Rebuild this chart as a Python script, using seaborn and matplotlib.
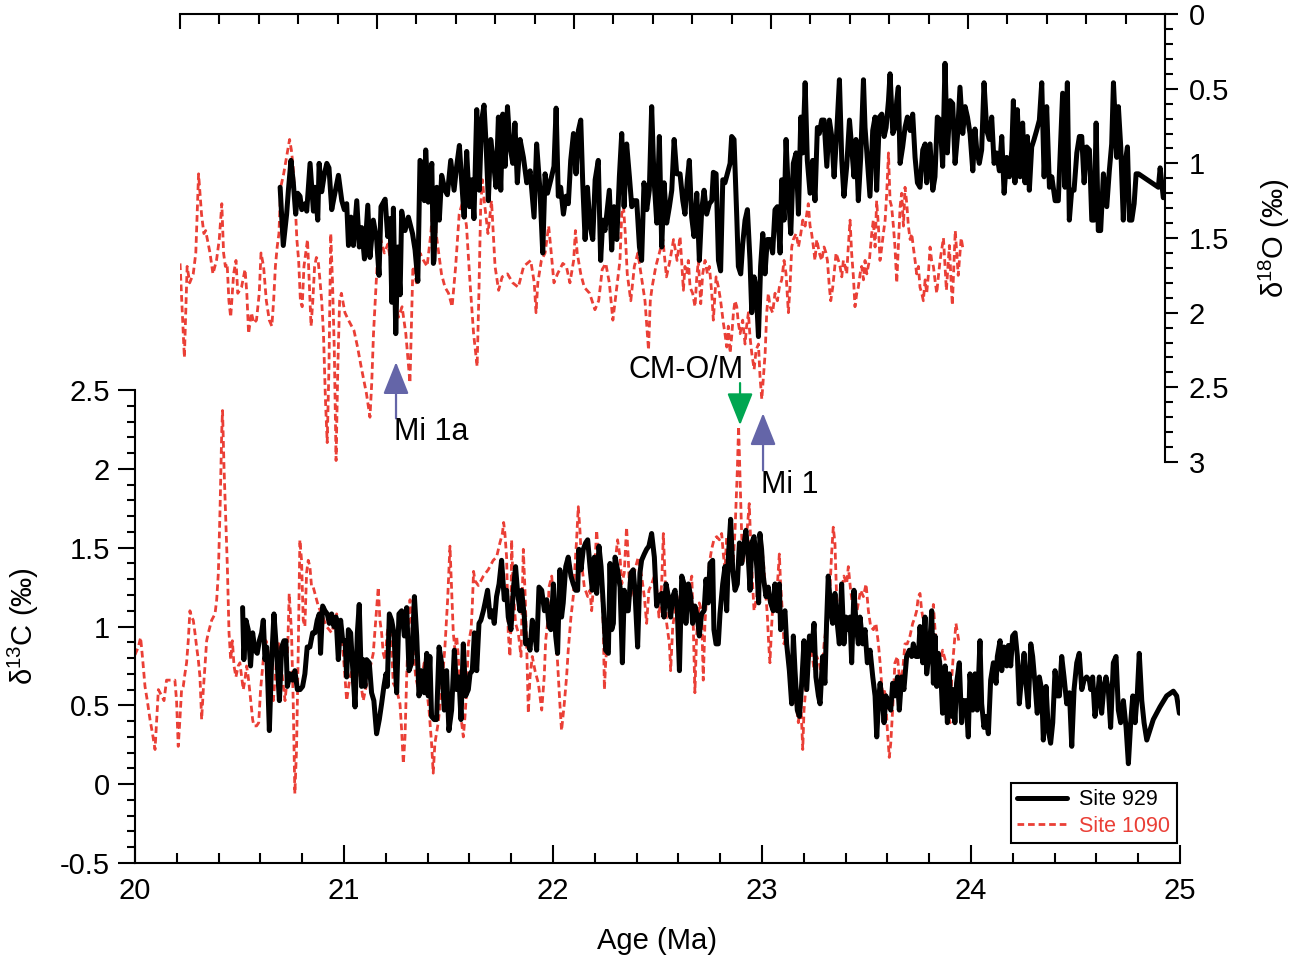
"""
plot.py - Site 929 / Site 1090 stable isotope records, 20-25 Ma.

Top panel: d18O (reversed axis), bottom panel: d13C.
"""

import matplotlib
matplotlib.use("Agg")
import matplotlib.pyplot as plt
from matplotlib.lines import Line2D
from matplotlib.ticker import MultipleLocator, FormatStrFormatter
import seaborn as sns

# ---------------------------------------------------------------------------
# Data
# ---------------------------------------------------------------------------
age_929_o = [
    20.508, 20.524, 20.541, 20.55, 20.563, 20.575, 20.587, 20.597, 20.609, 20.618,
    20.635, 20.643, 20.66, 20.677, 20.685, 20.699, 20.706, 20.719, 20.733, 20.745,
    20.756, 20.77, 20.783, 20.804, 20.821, 20.834, 20.846, 20.855, 20.868, 20.88,
    20.897, 20.91, 20.922, 20.936, 20.953, 20.964, 20.981, 20.998, 21.01, 21.02,
    21.041, 21.054, 21.066, 21.075, 21.083, 21.095, 21.105, 21.117, 21.125, 21.142,
    21.159, 21.18, 21.193, 21.207, 21.218, 21.23, 21.24, 21.247, 21.26, 21.278,
    21.286, 21.289, 21.303, 21.316, 21.328, 21.345, 21.357, 21.374, 21.391, 21.404,
    21.418, 21.43, 21.442, 21.455, 21.469, 21.48, 21.492, 21.506, 21.519, 21.531,
    21.543, 21.553, 21.565, 21.577, 21.59, 21.604, 21.616, 21.628, 21.638, 21.65,
    21.662, 21.675, 21.689, 21.7, 21.712, 21.726, 21.743, 21.76, 21.777, 21.797,
    21.81, 21.827, 21.841, 21.853, 21.865, 21.882, 21.898, 21.909, 21.92, 21.932,
    21.946, 21.959, 21.971, 21.983, 21.997, 22.01, 22.022, 22.034, 22.044, 22.056,
    22.068, 22.081, 22.095, 22.107, 22.123, 22.135, 22.146, 22.157, 22.166, 22.179,
    22.191, 22.203, 22.217, 22.23, 22.242, 22.254, 22.267, 22.281, 22.293, 22.305,
    22.318, 22.332, 22.343, 22.355, 22.369, 22.382, 22.394, 22.406, 22.42, 22.433,
    22.445, 22.457, 22.47, 22.484, 22.496, 22.508, 22.521, 22.538, 22.552, 22.563,
    22.575, 22.585, 22.597, 22.609, 22.623, 22.636, 22.648, 22.66, 22.673, 22.687,
    22.699, 22.707, 22.721, 22.733, 22.744, 22.755, 22.766, 22.778, 22.792, 22.8,
    22.812, 22.826, 22.834, 22.846, 22.856, 22.868, 22.88, 22.893, 22.902, 22.914,
    22.924, 22.936, 22.947, 22.958, 22.969, 22.981, 22.995, 23.008, 23.02, 23.032,
    23.046, 23.054, 23.066, 23.076, 23.088, 23.1, 23.113, 23.127, 23.139, 23.151,
    23.161, 23.173, 23.184, 23.198, 23.211, 23.223, 23.235, 23.245, 23.257, 23.269,
    23.283, 23.296, 23.308, 23.32, 23.333, 23.347, 23.359, 23.37, 23.384, 23.398,
    23.409, 23.421, 23.431, 23.443, 23.455, 23.469, 23.477, 23.489, 23.502, 23.516,
    23.528, 23.536, 23.55, 23.562, 23.574, 23.584, 23.596, 23.604, 23.618, 23.629,
    23.638, 23.646, 23.655, 23.668, 23.68, 23.692, 23.706, 23.719, 23.731, 23.743,
    23.756, 23.77, 23.782, 23.79, 23.807, 23.821, 23.832, 23.844, 23.858, 23.871,
    23.883, 23.895, 23.909, 23.922, 23.934, 23.946, 23.959, 23.973, 23.985, 23.997,
    24.01, 24.024, 24.035, 24.044, 24.057, 24.069, 24.081, 24.095, 24.108, 24.12,
    24.132, 24.145, 24.159, 24.171, 24.183, 24.196, 24.21, 24.222, 24.23, 24.238,
    24.25, 24.264, 24.277, 24.289, 24.301, 24.311, 24.323, 24.335, 24.348, 24.362,
    24.374, 24.386, 24.399, 24.413, 24.425, 24.442, 24.458, 24.467, 24.48, 24.492,
    24.504, 24.514, 24.526, 24.538, 24.552, 24.565, 24.577, 24.589, 24.602, 24.616,
    24.628, 24.64, 24.65, 24.661, 24.673, 24.687, 24.704, 24.717, 24.729, 24.738,
    24.755, 24.763, 24.775, 24.788, 24.797, 24.809, 24.819, 24.831, 24.843, 24.853,
    24.865, 24.966, 24.975, 24.991,
]
d18o_929 = [
    1.16, 1.55, 1.34, 1.18, 0.98, 1.13, 1.34, 1.2, 1.22, 1.31,
    1.27, 1.32, 1.0, 1.32, 1.16, 1.38, 1.0, 1.19, 1.07, 1.0,
    1.03, 1.31, 1.22, 1.08, 1.25, 1.31, 1.27, 1.55, 1.36, 1.55,
    1.25, 1.56, 1.43, 1.64, 1.28, 1.63, 1.38, 1.51, 1.75, 1.29,
    1.24, 1.49, 1.37, 1.93, 1.3, 2.14, 1.56, 1.88, 1.32, 1.45,
    1.36, 1.47, 1.58, 1.79, 0.98, 1.0, 1.25, 0.91, 1.26, 1.0,
    1.67, 1.65, 1.16, 1.38, 1.08, 1.18, 1.21, 0.98, 1.18, 1.02,
    0.88, 1.13, 1.36, 0.92, 1.29, 1.11, 1.37, 0.64, 1.18, 0.71,
    0.61, 0.86, 1.25, 0.84, 0.98, 1.16, 0.69, 1.18, 0.67, 1.02,
    0.62, 0.89, 1.0, 0.73, 1.13, 0.84, 0.96, 1.13, 1.05, 1.36,
    0.87, 1.18, 1.6, 1.07, 1.2, 1.11, 1.02, 0.63, 1.22, 1.16,
    1.34, 1.22, 1.27, 0.98, 0.8, 1.07, 0.78, 0.71, 1.13, 1.51,
    1.16, 1.42, 1.51, 1.11, 0.98, 1.65, 1.38, 1.45, 1.34, 1.18,
    1.58, 1.29, 1.51, 1.09, 0.8, 1.29, 0.87, 1.09, 1.29, 1.25,
    1.25, 1.56, 1.65, 1.13, 1.31, 1.18, 0.62, 1.11, 1.4, 0.82,
    1.56, 1.13, 1.4, 1.29, 1.18, 0.84, 1.07, 1.07, 1.25, 1.34,
    1.11, 0.98, 1.36, 1.49, 1.2, 1.65, 1.31, 1.18, 1.34, 1.27,
    1.25, 1.06, 1.07, 1.65, 1.72, 1.11, 1.13, 1.07, 1.0, 0.82,
    0.84, 1.36, 1.69, 1.74, 1.54, 1.38, 1.31, 1.65, 2.0, 1.76,
    1.83, 2.16, 1.69, 1.47, 1.74, 1.51, 1.51, 1.6, 1.31, 1.29,
    1.6, 1.11, 1.38, 0.84, 1.2, 1.47, 1.0, 0.93, 1.34, 0.69,
    0.93, 0.46, 0.98, 1.2, 0.98, 1.25, 0.76, 0.8, 0.71, 0.71,
    1.02, 0.71, 0.82, 1.09, 0.8, 0.44, 0.98, 1.22, 1.02, 0.71,
    0.89, 1.09, 0.84, 1.25, 0.96, 0.44, 0.76, 0.98, 1.22, 0.78,
    0.69, 1.18, 0.69, 0.67, 0.82, 0.76, 0.58, 0.4, 0.8, 0.76,
    0.58, 0.49, 1.0, 0.89, 0.76, 0.69, 0.78, 0.67, 0.96, 1.13,
    1.16, 0.91, 0.87, 1.13, 0.87, 1.18, 1.09, 0.69, 0.71, 1.02,
    0.33, 0.93, 0.58, 0.6, 1.0, 0.82, 0.49, 0.8, 0.62, 0.69,
    0.8, 1.05, 0.77, 0.91, 1.0, 0.91, 0.46, 0.78, 0.84, 0.69,
    1.0, 0.93, 1.05, 0.82, 1.2, 0.96, 1.09, 0.91, 0.58, 1.13,
    0.64, 1.09, 0.73, 1.13, 0.82, 1.18, 0.89, 0.84, 0.78, 0.71,
    0.46, 1.09, 0.62, 1.16, 1.09, 1.25, 1.25, 0.96, 0.53, 1.16,
    0.46, 1.38, 1.18, 1.18, 0.93, 0.82, 0.82, 1.13, 0.89, 0.91,
    1.38, 1.38, 0.73, 1.45, 1.45, 1.07, 1.29, 1.05, 0.87, 0.46,
    0.96, 0.62, 0.89, 1.38, 1.0, 0.89, 1.38, 1.38, 1.27, 1.07,
    1.07, 1.16, 1.03, 1.23,
]

age_1090_o = [
    20.0, 20.022, 20.036, 20.049, 20.067, 20.08, 20.094, 20.109, 20.121, 20.13,
    20.139, 20.152, 20.167, 20.185, 20.199, 20.212, 20.221, 20.23, 20.239, 20.248,
    20.257, 20.272, 20.284, 20.293, 20.312, 20.33, 20.339, 20.348, 20.362, 20.375,
    20.388, 20.402, 20.411, 20.424, 20.438, 20.453, 20.466, 20.475, 20.484, 20.493,
    20.502, 20.511, 20.526, 20.556, 20.565, 20.574, 20.584, 20.593, 20.602, 20.611,
    20.62, 20.629, 20.638, 20.647, 20.656, 20.665, 20.674, 20.683, 20.692, 20.701,
    20.71, 20.719, 20.728, 20.738, 20.747, 20.756, 20.765, 20.774, 20.783, 20.792,
    20.801, 20.81, 20.819, 20.837, 20.855, 20.883, 20.901, 20.919, 20.946, 20.964,
    20.973, 20.982, 20.991, 21.0, 21.019, 21.037, 21.055, 21.073, 21.091, 21.109,
    21.127, 21.146, 21.167, 21.182, 21.2, 21.218, 21.236, 21.254, 21.273, 21.29,
    21.3, 21.327, 21.345, 21.363, 21.381, 21.399, 21.417, 21.436, 21.454, 21.472,
    21.49, 21.508, 21.517, 21.526, 21.535, 21.544, 21.563, 21.581, 21.599, 21.617,
    21.635, 21.662, 21.689, 21.717, 21.744, 21.762, 21.78, 21.798, 21.807, 21.816,
    21.834, 21.853, 21.871, 21.88, 21.898, 21.916, 21.943, 21.961, 21.979, 21.998,
    22.007, 22.016, 22.034, 22.052, 22.079, 22.106, 22.125, 22.143, 22.161, 22.179,
    22.197, 22.215, 22.233, 22.242, 22.251, 22.26, 22.27, 22.288, 22.306, 22.324,
    22.342, 22.36, 22.378, 22.387, 22.396, 22.415, 22.433, 22.451, 22.469, 22.487,
    22.505, 22.523, 22.538, 22.546, 22.555, 22.563, 22.572, 22.58, 22.589, 22.602,
    22.614, 22.623, 22.631, 22.643, 22.653, 22.665, 22.677, 22.687, 22.699, 22.707,
    22.721, 22.733, 22.744, 22.758, 22.766, 22.775, 22.783, 22.792, 22.8, 22.809,
    22.817, 22.826, 22.834, 22.843, 22.856, 22.868, 22.876, 22.885, 22.893, 22.902,
    22.914, 22.924, 22.936, 22.944, 22.953, 22.961, 22.97, 22.978, 22.986, 22.995,
    23.008, 23.02, 23.032, 23.042, 23.054, 23.066, 23.076, 23.088, 23.096, 23.105,
    23.113, 23.127, 23.139, 23.151, 23.161, 23.173, 23.181, 23.189, 23.198, 23.206,
    23.215, 23.223, 23.232, 23.245, 23.257, 23.269, 23.279, 23.286, 23.296, 23.303,
    23.313, 23.32, 23.33, 23.342, 23.35, 23.359, 23.367, 23.376, 23.384, 23.392,
    23.401, 23.409, 23.418, 23.426, 23.435, 23.443, 23.452, 23.46, 23.469, 23.477,
    23.486, 23.499, 23.511, 23.519, 23.528, 23.536, 23.545, 23.553, 23.562, 23.57,
    23.579, 23.587, 23.596, 23.604, 23.612, 23.621, 23.629, 23.638, 23.646, 23.655,
    23.663, 23.672, 23.68, 23.689, 23.697, 23.706, 23.714, 23.722, 23.731, 23.739,
    23.748, 23.756, 23.765, 23.773, 23.782, 23.79, 23.799, 23.807, 23.815, 23.824,
    23.832, 23.841, 23.849, 23.858, 23.875, 23.89, 23.905, 23.92, 23.935, 23.95,
    23.965, 23.975,
]
d18o_1090 = [
    1.67, 2.3, 1.69, 1.8, 1.74, 1.6, 1.07, 1.34, 1.47, 1.45,
    1.51, 1.6, 1.74, 1.65, 1.51, 1.27, 1.6, 1.69, 1.67, 1.92,
    2.03, 1.74, 1.65, 1.87, 1.83, 1.71, 1.87, 2.14, 2.0, 2.07,
    2.05, 1.87, 1.6, 1.69, 1.92, 2.05, 2.09, 1.92, 1.69, 1.56,
    1.47, 1.16, 1.07, 0.84, 0.91, 1.02, 1.25, 1.51, 1.65, 1.92,
    1.96, 1.69, 1.6, 1.51, 1.8, 2.09, 1.92, 1.69, 1.63, 1.65,
    1.78, 1.92, 2.14, 2.58, 2.87, 2.36, 1.47, 1.8, 2.25, 2.99,
    2.36, 1.92, 1.87, 2.0, 2.05, 2.12, 2.23, 2.36, 2.54, 2.7,
    2.47, 2.14, 1.92, 1.69, 1.51, 1.6, 1.54, 1.69, 1.92, 2.03,
    1.96, 2.14, 2.47, 1.69, 1.8, 1.6, 1.65, 1.69, 1.47, 1.16,
    1.47, 1.74, 1.83, 1.87, 1.96, 1.69, 1.34, 1.25, 1.42, 1.8,
    2.14, 2.36, 1.87, 1.29, 1.11, 1.25, 1.47, 1.25, 1.69, 1.85,
    1.76, 1.74, 1.8, 1.83, 1.69, 1.67, 1.65, 1.8, 2.0, 1.8,
    1.65, 1.6, 1.42, 1.54, 1.8, 1.74, 1.67, 1.69, 1.8, 1.65,
    1.45, 1.6, 1.74, 1.83, 1.87, 1.98, 1.92, 1.71, 1.67, 1.8,
    2.05, 1.85, 1.65, 1.34, 1.29, 1.47, 1.74, 1.92, 1.69, 1.6,
    1.76, 1.92, 2.25, 1.92, 1.83, 1.69, 1.6, 1.51, 1.76, 1.65,
    1.51, 1.65, 1.49, 1.65, 1.85, 1.69, 1.74, 1.65, 1.83, 1.87,
    1.96, 1.76, 1.65, 1.94, 1.74, 1.65, 1.74, 1.69, 1.87, 2.05,
    1.76, 1.83, 1.92, 2.07, 2.14, 2.23, 2.09, 2.27, 2.16, 2.0,
    1.92, 1.96, 2.07, 2.14, 2.05, 2.21, 2.09, 2.0, 2.16, 2.27,
    2.38, 2.25, 2.21, 2.43, 2.58, 2.43, 2.27, 2.0, 1.87, 1.96,
    2.0, 1.87, 1.92, 1.83, 1.78, 1.65, 1.74, 2.0, 1.83, 1.56,
    1.51, 1.47, 1.56, 1.47, 1.38, 1.42, 1.34, 1.27, 1.42, 1.47,
    1.56, 1.65, 1.51, 1.6, 1.65, 1.56, 1.6, 1.65, 1.83, 1.92,
    1.83, 1.74, 1.6, 1.65, 1.69, 1.76, 1.65, 1.69, 1.74, 1.56,
    1.38, 1.6, 1.76, 1.96, 1.87, 1.83, 1.74, 1.69, 1.78, 1.65,
    1.74, 1.65, 1.47, 1.38, 1.56, 1.25, 1.42, 1.65, 1.56, 1.47,
    1.38, 1.2, 0.93, 1.25, 1.29, 1.42, 1.56, 1.8, 1.56, 1.29,
    1.2, 1.42, 1.16, 1.27, 1.42, 1.51, 1.47, 1.56, 1.65, 1.74,
    1.69, 1.83, 1.87, 1.92, 1.78, 1.87, 1.74, 1.56, 1.65, 1.69,
    1.78, 1.87, 1.76, 1.65, 1.5, 1.85, 1.55, 1.95, 1.45, 1.75,
    1.5, 1.58,
]

age_929_c = [
    20.515, 20.521, 20.531, 20.542, 20.553, 20.563, 20.574, 20.585, 20.595, 20.606,
    20.614, 20.622, 20.63, 20.643, 20.654, 20.665, 20.678, 20.691, 20.702, 20.713,
    20.722, 20.729, 20.742, 20.754, 20.765, 20.777, 20.79, 20.802, 20.813, 20.824,
    20.837, 20.85, 20.861, 20.872, 20.882, 20.888, 20.898, 20.909, 20.92, 20.93,
    20.941, 20.952, 20.962, 20.973, 20.984, 20.994, 21.005, 21.013, 21.021, 21.032,
    21.041, 21.053, 21.064, 21.073, 21.084, 21.092, 21.1, 21.108, 21.121, 21.132,
    21.143, 21.156, 21.169, 21.18, 21.191, 21.201, 21.207, 21.217, 21.228, 21.239,
    21.252, 21.263, 21.276, 21.289, 21.3, 21.311, 21.324, 21.337, 21.348, 21.359,
    21.372, 21.384, 21.396, 21.403, 21.411, 21.419, 21.432, 21.443, 21.455, 21.467,
    21.48, 21.491, 21.502, 21.515, 21.528, 21.539, 21.55, 21.56, 21.571, 21.582,
    21.595, 21.603, 21.614, 21.624, 21.635, 21.646, 21.655, 21.667, 21.675, 21.687,
    21.699, 21.71, 21.719, 21.73, 21.742, 21.754, 21.767, 21.778, 21.786, 21.799,
    21.81, 21.821, 21.831, 21.842, 21.85, 21.863, 21.869, 21.879, 21.89, 21.901,
    21.911, 21.922, 21.933, 21.946, 21.959, 21.97, 21.981, 21.99, 22.002, 22.013,
    22.022, 22.033, 22.041, 22.049, 22.061, 22.073, 22.086, 22.097, 22.108, 22.118,
    22.124, 22.134, 22.145, 22.156, 22.166, 22.177, 22.188, 22.198, 22.209, 22.22,
    22.23, 22.241, 22.252, 22.265, 22.273, 22.281, 22.289, 22.297, 22.309, 22.321,
    22.332, 22.341, 22.352, 22.36, 22.373, 22.384, 22.392, 22.405, 22.416, 22.424,
    22.437, 22.448, 22.459, 22.472, 22.485, 22.496, 22.507, 22.52, 22.531, 22.541,
    22.552, 22.563, 22.573, 22.584, 22.595, 22.605, 22.616, 22.627, 22.636, 22.648,
    22.659, 22.668, 22.679, 22.691, 22.7, 22.711, 22.723, 22.732, 22.743, 22.751,
    22.764, 22.77, 22.78, 22.791, 22.799, 22.812, 22.823, 22.831, 22.839, 22.85,
    22.86, 22.871, 22.882, 22.892, 22.903, 22.911, 22.923, 22.935, 22.943, 22.951,
    22.962, 22.975, 22.984, 22.99, 22.998, 23.006, 23.019, 23.03, 23.041, 23.054,
    23.062, 23.073, 23.083, 23.089, 23.099, 23.11, 23.118, 23.131, 23.142, 23.15,
    23.158, 23.169, 23.179, 23.19, 23.201, 23.214, 23.227, 23.238, 23.249, 23.258,
    23.27, 23.278, 23.29, 23.301, 23.309, 23.317, 23.329, 23.338, 23.349, 23.357,
    23.37, 23.381, 23.392, 23.402, 23.413, 23.421, 23.429, 23.44, 23.45, 23.461,
    23.469, 23.482, 23.493, 23.504, 23.517, 23.53, 23.541, 23.549, 23.557, 23.565,
    23.577, 23.584, 23.593, 23.605, 23.616, 23.625, 23.636, 23.648, 23.657, 23.668,
    23.679, 23.692, 23.705, 23.716, 23.724, 23.737, 23.748, 23.756, 23.769, 23.78,
    23.788, 23.801, 23.812, 23.82, 23.828, 23.836, 23.844, 23.855, 23.864, 23.876,
    23.887, 23.896, 23.907, 23.915, 23.923, 23.931, 23.944, 23.955, 23.963, 23.976,
    23.987, 23.995, 24.008, 24.019, 24.03, 24.043, 24.051, 24.062, 24.072, 24.083,
    24.094, 24.107, 24.12, 24.126, 24.139, 24.147, 24.158, 24.171, 24.179, 24.19,
    24.199, 24.211, 24.222, 24.231, 24.242, 24.254, 24.263, 24.274, 24.286, 24.295,
    24.306, 24.317, 24.327, 24.338, 24.346, 24.359, 24.37, 24.381, 24.391, 24.402,
    24.413, 24.423, 24.434, 24.445, 24.458, 24.471, 24.482, 24.493, 24.506, 24.518,
    24.53, 24.541, 24.553, 24.566, 24.573, 24.582, 24.593, 24.604, 24.614, 24.625,
    24.636, 24.646, 24.657, 24.668, 24.681, 24.694, 24.705, 24.716, 24.729, 24.742,
    24.753, 24.764, 24.774, 24.785, 24.796, 24.805, 24.817, 24.828, 24.841, 24.872,
    24.904, 24.936, 24.968, 24.984, 24.997,
]
d13c_929 = [
    1.12, 0.79, 1.04, 0.98, 0.75, 0.96, 0.85, 0.83, 0.91, 0.96,
    1.04, 0.79, 0.87, 0.34, 0.79, 1.08, 0.83, 0.53, 0.87, 0.91,
    0.91, 0.62, 0.7, 0.66, 0.72, 0.6, 0.6, 0.62, 0.7, 0.87,
    0.87, 0.96, 0.96, 1.04, 1.08, 0.83, 1.13, 1.1, 1.08, 1.02,
    1.08, 1.0, 1.06, 0.79, 1.04, 0.91, 0.91, 0.68, 0.98, 0.96,
    0.75, 0.49, 0.96, 1.14, 0.62, 0.79, 0.62, 0.79, 0.77, 0.58,
    0.53, 0.32, 0.41, 0.51, 0.62, 0.7, 0.62, 1.08, 1.04, 0.96,
    0.58, 1.08, 1.1, 0.94, 1.12, 0.72, 0.77, 1.19, 0.94, 0.56,
    0.72, 0.58, 0.83, 0.56, 0.81, 0.43, 0.41, 0.41, 0.87, 0.77,
    0.47, 0.72, 0.34, 0.47, 0.85, 0.6, 0.68, 0.41, 0.89, 0.56,
    0.6, 0.7, 0.72, 0.96, 0.72, 1.02, 1.04, 1.1, 1.15, 1.23,
    1.06, 1.1, 1.02, 1.19, 1.27, 1.42, 1.17, 1.23, 1.06, 0.98,
    1.23, 1.38, 1.21, 1.1, 1.23, 1.06, 0.89, 0.91, 0.85, 1.04,
    0.98, 0.85, 1.25, 1.23, 1.1, 1.17, 1.0, 0.98, 1.27, 0.94,
    0.83, 1.36, 1.06, 1.15, 1.38, 1.44, 1.32, 1.27, 1.23, 1.23,
    1.49, 1.36, 1.49, 1.53, 1.55, 1.38, 1.23, 1.44, 1.21, 1.51,
    1.38, 1.13, 0.85, 0.83, 1.4, 0.98, 1.02, 1.44, 1.36, 1.25,
    0.77, 1.23, 1.1, 1.1, 1.34, 1.36, 1.23, 0.87, 1.34, 1.42,
    1.46, 1.49, 1.51, 1.59, 1.44, 1.13, 1.19, 1.21, 1.06, 1.27,
    1.19, 1.06, 1.19, 1.23, 1.1, 0.72, 1.32, 1.27, 1.02, 1.27,
    1.19, 1.02, 1.13, 1.06, 0.94, 1.08, 1.1, 1.3, 1.15, 1.4,
    1.42, 0.98, 0.89, 0.89, 1.08, 1.27, 1.38, 1.1, 1.44, 1.68,
    1.36, 1.23, 1.27, 1.53, 1.4, 1.49, 1.61, 1.42, 1.23, 1.53,
    1.57, 1.38, 1.15, 1.59, 1.49, 1.32, 1.19, 1.25, 1.15, 1.1,
    1.27, 1.1, 1.27, 0.98, 1.06, 1.1, 0.89, 0.72, 0.51, 0.94,
    0.72, 0.47, 0.43, 0.64, 0.91, 0.6, 0.94, 0.85, 1.02, 0.68,
    0.56, 0.51, 0.81, 0.64, 1.02, 1.32, 1.1, 1.02, 1.21, 1.06,
    0.89, 1.27, 0.89, 1.06, 0.98, 1.06, 0.77, 1.23, 1.02, 0.89,
    1.06, 0.89, 0.98, 0.77, 0.85, 0.68, 0.56, 0.3, 0.51, 0.64,
    0.51, 0.39, 0.56, 0.51, 0.47, 0.64, 0.56, 0.68, 0.47, 0.68,
    0.6, 0.81, 0.85, 0.81, 0.89, 0.81, 0.81, 1.0, 0.77, 1.06,
    0.7, 0.85, 1.1, 0.64, 0.94, 0.62, 0.83, 0.72, 0.45, 0.75,
    0.39, 0.7, 0.43, 0.6, 0.39, 0.64, 0.77, 0.39, 0.53, 0.53,
    0.3, 0.7, 0.47, 0.7, 0.47, 0.91, 0.51, 0.36, 0.43, 0.32,
    0.66, 0.77, 0.64, 0.81, 0.91, 0.72, 0.87, 0.75, 0.88, 0.75,
    0.94, 0.96, 0.81, 0.51, 0.68, 0.83, 0.64, 0.49, 0.89, 0.81,
    0.64, 0.45, 0.68, 0.6, 0.28, 0.62, 0.34, 0.26, 0.39, 0.72,
    0.56, 0.56, 0.81, 0.68, 0.51, 0.58, 0.24, 0.6, 0.77, 0.83,
    0.6, 0.66, 0.68, 0.66, 0.6, 0.68, 0.43, 0.53, 0.68, 0.45,
    0.62, 0.68, 0.6, 0.36, 0.77, 0.81, 0.47, 0.39, 0.53, 0.36,
    0.13, 0.39, 0.56, 0.39, 0.58, 0.83, 0.53, 0.39, 0.28, 0.41,
    0.49, 0.56, 0.59, 0.56, 0.45,
]

age_1090_c = [
    20.0, 20.016, 20.027, 20.037, 20.048, 20.059, 20.072, 20.084, 20.096, 20.104,
    20.112, 20.128, 20.139, 20.151, 20.191, 20.199, 20.207, 20.215, 20.223, 20.231,
    20.239, 20.247, 20.255, 20.263, 20.271, 20.279, 20.287, 20.295, 20.303, 20.311,
    20.319, 20.327, 20.335, 20.343, 20.351, 20.359, 20.367, 20.375, 20.383, 20.391,
    20.399, 20.407, 20.415, 20.419, 20.426, 20.434, 20.442, 20.45, 20.458, 20.466,
    20.474, 20.483, 20.494, 20.502, 20.518, 20.526, 20.534, 20.542, 20.55, 20.563,
    20.569, 20.582, 20.592, 20.601, 20.614, 20.627, 20.638, 20.649, 20.662, 20.675,
    20.686, 20.697, 20.71, 20.718, 20.726, 20.738, 20.749, 20.757, 20.765, 20.773,
    20.781, 20.789, 20.797, 20.805, 20.813, 20.821, 20.829, 20.837, 20.845, 20.853,
    20.861, 20.869, 20.877, 20.893, 20.917, 20.941, 20.965, 20.989, 21.013, 21.029,
    21.061, 21.092, 21.116, 21.14, 21.164, 21.172, 21.18, 21.188, 21.196, 21.207,
    21.22, 21.236, 21.252, 21.268, 21.276, 21.284, 21.292, 21.3, 21.308, 21.316,
    21.324, 21.332, 21.343, 21.356, 21.372, 21.384, 21.396, 21.407, 21.419, 21.427,
    21.435, 21.451, 21.467, 21.483, 21.496, 21.507, 21.515, 21.523, 21.531, 21.539,
    21.547, 21.555, 21.563, 21.571, 21.579, 21.587, 21.595, 21.608, 21.614, 21.62,
    21.627, 21.643, 21.667, 21.69, 21.714, 21.73, 21.746, 21.758, 21.764, 21.77,
    21.778, 21.786, 21.794, 21.799, 21.802, 21.81, 21.821, 21.834, 21.847, 21.858,
    21.866, 21.874, 21.882, 21.89, 21.901, 21.914, 21.93, 21.946, 21.958, 21.965,
    21.974, 21.981, 21.994, 22.01, 22.022, 22.033, 22.041, 22.054, 22.065, 22.073,
    22.086, 22.097, 22.105, 22.113, 22.121, 22.129, 22.137, 22.15, 22.166, 22.177,
    22.185, 22.198, 22.209, 22.217, 22.23, 22.241, 22.246, 22.252, 22.265, 22.284,
    22.297, 22.309, 22.321, 22.329, 22.341, 22.352, 22.36, 22.368, 22.38, 22.392,
    22.408, 22.424, 22.437, 22.448, 22.459, 22.472, 22.485, 22.496, 22.507, 22.52,
    22.528, 22.536, 22.544, 22.557, 22.563, 22.573, 22.584, 22.595, 22.605, 22.616,
    22.627, 22.64, 22.652, 22.664, 22.671, 22.679, 22.687, 22.7, 22.711, 22.719,
    22.727, 22.735, 22.748, 22.759, 22.77, 22.783, 22.796, 22.807, 22.815, 22.823,
    22.831, 22.844, 22.855, 22.863, 22.871, 22.882, 22.888, 22.895, 22.903, 22.911,
    22.919, 22.93, 22.939, 22.946, 22.955, 22.962, 22.975, 22.982, 22.99, 22.998,
    23.01, 23.019, 23.026, 23.032, 23.038, 23.046, 23.054, 23.062, 23.073, 23.083,
    23.089, 23.099, 23.105, 23.115, 23.126, 23.137, 23.15, 23.163, 23.174, 23.185,
    23.195, 23.201, 23.214, 23.227, 23.238, 23.249, 23.262, 23.274, 23.286, 23.297,
    23.309, 23.322, 23.333, 23.341, 23.349, 23.357, 23.37, 23.381, 23.392, 23.405,
    23.413, 23.424, 23.437, 23.45, 23.461, 23.472, 23.485, 23.498, 23.509, 23.52,
    23.533, 23.545, 23.557, 23.565, 23.577, 23.589, 23.6, 23.609, 23.616, 23.625,
    23.636, 23.648, 23.66, 23.673, 23.684, 23.695, 23.708, 23.721, 23.732, 23.74,
    23.748, 23.756, 23.764, 23.775, 23.788, 23.801, 23.812, 23.82, 23.828, 23.836,
    23.852, 23.864, 23.876, 23.884, 23.892, 23.9, 23.908, 23.915, 23.923, 23.928,
    23.935, 23.944,
]
d13c_1090 = [
    0.82, 0.87, 0.93, 0.79, 0.62, 0.53, 0.41, 0.32, 0.22, 0.41,
    0.6, 0.56, 0.53, 0.66, 0.66, 0.53, 0.24, 0.41, 0.6, 0.62,
    0.7, 0.77, 0.91, 1.1, 1.06, 1.04, 0.96, 0.87, 0.79, 0.68,
    0.41, 0.6, 0.75, 0.91, 0.96, 1.0, 1.04, 1.06, 1.08, 1.17,
    1.34, 1.74, 2.23, 2.37, 2.01, 1.7, 1.38, 0.96, 0.79, 0.91,
    0.75, 0.68, 0.75, 0.77, 0.6, 0.66, 0.75, 0.68, 0.58, 0.41,
    0.37, 0.37, 0.39, 0.6, 0.79, 0.91, 0.83, 0.58, 0.53, 0.75,
    0.91, 0.79, 0.62, 0.53, 0.64, 1.21, 0.96, 0.53, -0.06, 0.22,
    0.83, 1.55, 1.42, 1.04, 1.0, 1.34, 1.42, 1.38, 1.25, 1.25,
    1.21, 1.17, 1.13, 1.08, 1.0, 0.96, 1.08, 0.96, 0.53, 0.68,
    0.83, 0.53, 0.68, 0.83, 1.25, 1.04, 0.96, 0.83, 0.79, 0.96,
    1.06, 0.64, 0.6, 0.51, 0.34, 0.13, 0.3, 0.68, 0.98, 1.17,
    1.02, 0.85, 0.68, 0.6, 0.68, 0.77, 0.6, 0.47, 0.26, 0.07,
    0.26, 0.39, 0.6, 0.87, 1.17, 1.51, 1.23, 0.96, 0.85, 0.94,
    0.81, 0.56, 0.39, 0.3, 0.43, 0.6, 0.89, 0.98, 1.13, 1.35,
    1.29, 1.26, 1.32, 1.36, 1.42, 1.44, 1.53, 1.59, 1.66, 1.59,
    1.44, 0.96, 0.81, 1.02, 1.55, 1.23, 1.02, 0.96, 0.81, 1.49,
    1.23, 0.89, 0.45, 0.68, 0.81, 0.72, 0.64, 0.47, 0.68, 0.91,
    1.02, 1.25, 1.32, 1.02, 0.77, 0.51, 0.34, 0.51, 0.68, 0.85,
    1.06, 1.19, 1.38, 1.55, 1.76, 1.61, 1.4, 1.25, 1.19, 1.23,
    1.1, 1.34, 1.61, 1.44, 1.32, 0.98, 0.6, 0.77, 1.02, 1.27,
    1.4, 1.55, 1.44, 1.27, 1.34, 1.63, 1.44, 1.17, 1.23, 1.36,
    1.44, 1.32, 1.19, 1.02, 1.23, 1.27, 1.32, 1.25, 1.06, 1.27,
    1.59, 1.32, 1.02, 0.89, 0.72, 1.0, 1.1, 1.19, 1.06, 1.02,
    1.19, 1.1, 1.23, 1.32, 1.02, 0.58, 0.94, 1.15, 1.1, 0.66,
    1.02, 1.19, 1.4, 1.49, 1.55, 1.57, 1.55, 1.59, 1.46, 1.36,
    1.57, 1.53, 1.46, 1.42, 1.61, 1.99, 2.27, 1.95, 1.57, 1.4,
    1.57, 1.63, 1.78, 1.53, 1.27, 1.1, 1.19, 1.36, 1.44, 1.53,
    1.36, 1.19, 1.06, 0.89, 0.77, 1.0, 1.19, 1.1, 1.25, 1.46,
    1.27, 1.06, 0.89, 0.94, 0.81, 0.68, 0.62, 0.51, 0.39, 0.55,
    0.22, 0.47, 0.68, 0.81, 0.85, 0.72, 0.81, 0.77, 0.68, 0.89,
    1.02, 1.15, 1.46, 1.63, 1.53, 1.19, 1.06, 1.23, 1.32, 1.27,
    1.38, 1.23, 1.1, 1.06, 1.15, 1.23, 1.19, 1.27, 1.1, 1.0,
    0.98, 1.02, 0.89, 0.77, 0.55, 0.6, 0.34, 0.17, 0.26, 0.47,
    0.77, 0.81, 0.64, 0.72, 0.89, 0.89, 0.94, 1.02, 1.06, 1.1,
    1.19, 1.21, 1.1, 1.02, 0.81, 0.91, 1.02, 1.14, 0.98, 0.85,
    0.75, 0.85, 0.79, 0.62, 0.43, 0.39, 0.68, 0.81, 0.94, 1.02,
    0.96, 0.89,
]

x_ticks = [20, 21, 22, 23, 24, 25]
labels = ["Site 929", "Site 1090"]

# ---------------------------------------------------------------------------
# Style
# ---------------------------------------------------------------------------
sns.set_style("ticks")
plt.rcParams.update({
    "font.family": ["Liberation Sans", "DejaVu Sans"],
    "mathtext.fontset": "custom",
    "mathtext.rm": "Liberation Sans",
    "axes.unicode_minus": False,
    "axes.linewidth": 1.5,
    "axes.edgecolor": "black",
    "xtick.color": "black",
    "ytick.color": "black",
    "text.color": "black",
    "axes.labelcolor": "black",
})

BLACK = "#000000"
RED = "#ea3f36"
PURPLE = "#6465a8"
GREEN = "#00a651"
DASH = (0, (2.4, 1.4))
TICK_FS = 21
LABEL_FS = 21

fig = plt.figure(figsize=(12.99, 9.55), dpi=100)
ax_b = fig.add_axes([0.1039, 0.0963, 0.8045, 0.4953])
ax_t = fig.add_axes([0.1386, 0.5162, 0.7583, 0.4691])
for ax in (ax_b, ax_t):
    ax.set_facecolor("none")
fig.patch.set_facecolor("white")

# ---------------------------------------------------------------------------
# Top panel: d18O
# ---------------------------------------------------------------------------
sns.lineplot(x=age_1090_o, y=d18o_1090, ax=ax_t, color=RED, lw=2.0,
             linestyle=DASH, estimator=None, sort=False)
sns.lineplot(x=age_929_o, y=d18o_929, ax=ax_t, color=BLACK, lw=3.6,
             estimator=None, sort=False)

ax_t.set_xlim(20, 25)
ax_t.set_ylim(3, 0)
for side in ("left", "bottom"):
    ax_t.spines[side].set_visible(False)
ax_t.xaxis.tick_top()
ax_t.yaxis.tick_right()
ax_t.yaxis.set_label_position("right")
ax_t.set_xticks(x_ticks)
ax_t.xaxis.set_minor_locator(MultipleLocator(0.2))
ax_t.yaxis.set_major_locator(MultipleLocator(0.5))
ax_t.yaxis.set_minor_locator(MultipleLocator(0.1))
ax_t.yaxis.set_major_formatter(FormatStrFormatter("%g"))
ax_t.tick_params(axis="x", which="both", direction="in", top=True, bottom=False,
                 labeltop=False, labelbottom=False, width=1.5)
ax_t.tick_params(axis="x", which="major", length=11)
ax_t.tick_params(axis="x", which="minor", length=7)
ax_t.tick_params(axis="y", which="both", direction="out", right=True, left=False,
                 labelright=True, labelleft=False, width=1.5, labelsize=TICK_FS,
                 pad=8)
ax_t.tick_params(axis="y", which="major", length=9)
ax_t.tick_params(axis="y", which="minor", length=6)
ax_t.set_xlabel("")
ax_t.set_ylabel("δ$^{18}$O (‰)", fontsize=LABEL_FS, labelpad=20)

# ---------------------------------------------------------------------------
# Bottom panel: d13C
# ---------------------------------------------------------------------------
sns.lineplot(x=age_1090_c, y=d13c_1090, ax=ax_b, color=RED, lw=2.0,
             linestyle=DASH, estimator=None, sort=False)
sns.lineplot(x=age_929_c, y=d13c_929, ax=ax_b, color=BLACK, lw=3.6,
             estimator=None, sort=False)

ax_b.set_xlim(20, 25)
ax_b.set_ylim(-0.5, 2.5)
for side in ("top", "right"):
    ax_b.spines[side].set_visible(False)
ax_b.set_xticks(x_ticks)
ax_b.xaxis.set_minor_locator(MultipleLocator(0.2))
ax_b.yaxis.set_major_locator(MultipleLocator(0.5))
ax_b.yaxis.set_minor_locator(MultipleLocator(0.1))
ax_b.yaxis.set_major_formatter(FormatStrFormatter("%g"))
ax_b.tick_params(axis="x", which="both", direction="in", width=1.5,
                 labelsize=TICK_FS, pad=10)
ax_b.tick_params(axis="x", which="major", length=13)
ax_b.tick_params(axis="x", which="minor", length=7)
ax_b.tick_params(axis="y", which="both", direction="out", width=1.5,
                 labelsize=TICK_FS, pad=6)
ax_b.tick_params(axis="y", which="major", length=12)
ax_b.tick_params(axis="y", which="minor", length=6)
ax_b.set_xlabel("Age (Ma)", fontsize=LABEL_FS, labelpad=16)
ax_b.set_ylabel("δ$^{13}$C (‰)", fontsize=LABEL_FS, labelpad=14)

handles = [
    Line2D([], [], color=BLACK, lw=3.6),
    Line2D([], [], color=RED, lw=2.0, linestyle=DASH),
]
leg = ax_b.legend(handles, labels, loc="lower right",
                  bbox_to_anchor=(0.997, 0.042), borderaxespad=0,
                  fontsize=15.5, frameon=True, fancybox=False, framealpha=1,
                  edgecolor="black", handlelength=2.3, handletextpad=0.6,
                  borderpad=0.3, labelspacing=0.25, labelcolor="linecolor")
leg.get_frame().set_linewidth(1.5)

# ---------------------------------------------------------------------------
# Event markers
# ---------------------------------------------------------------------------
def event_arrow(x, y_tail, y_tip, color):
    ax_b.annotate("", xy=(x, y_tip), xytext=(x, y_tail),
                  xycoords="data", annotation_clip=False,
                  arrowprops=dict(arrowstyle="-|>,head_length=1.0,head_width=0.4",
                                  color=color, lw=1.6, mutation_scale=20,
                                  shrinkA=0, shrinkB=0))

event_arrow(21.249, 2.32, 2.677, PURPLE)
ax_b.text(21.238, 2.233, "Mi 1a", fontsize=22, ha="left", va="center", clip_on=False)

event_arrow(23.005, 1.99, 2.353, PURPLE)
ax_b.text(22.995, 1.897, "Mi 1", fontsize=22, ha="left", va="center", clip_on=False)

event_arrow(22.895, 2.544, 2.277, GREEN)
ax_b.text(22.91, 2.626, "CM-O/M", fontsize=22, ha="right", va="center", clip_on=False)

fig.savefig("out.png", dpi=100, facecolor="white")
plt.close(fig)
